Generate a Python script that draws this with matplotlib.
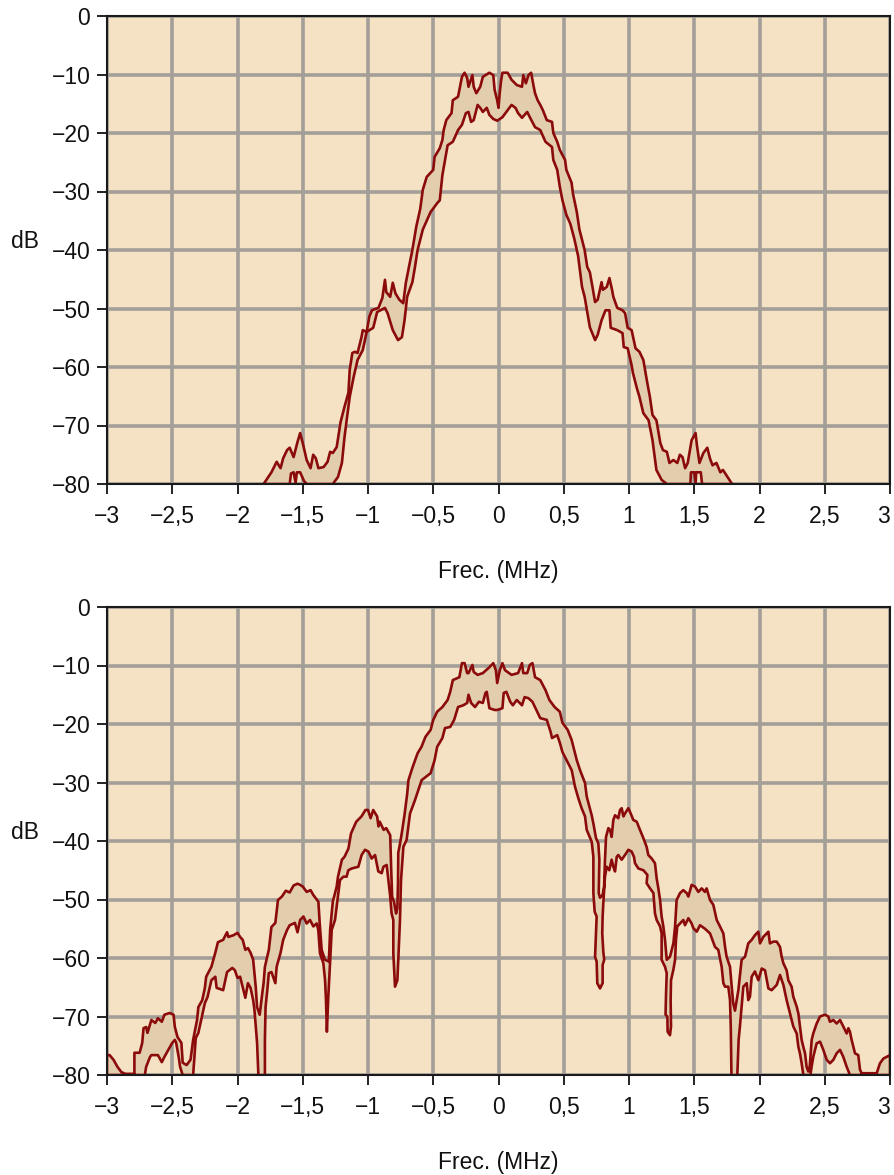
import matplotlib
matplotlib.use("Agg")
import matplotlib.pyplot as plt

plt.rcParams['font.family'] = ['Liberation Sans', 'DejaVu Sans']

# ---------------- data: (frequency MHz, level dB) ----------------
top_upper = [
    (-1.80, -80.0), (-1.74, -78.0), (-1.70, -76.2), (-1.67, -77.3), (-1.65, -75.6), (-1.62, -74.2),
    (-1.60, -73.8), (-1.57, -75.4), (-1.54, -72.8), (-1.52, -71.3), (-1.50, -73.0), (-1.47, -75.9),
    (-1.44, -77.3), (-1.42, -75.0), (-1.40, -75.6), (-1.38, -77.3), (-1.34, -77.1), (-1.31, -76.2),
    (-1.29, -74.5), (-1.27, -74.7), (-1.24, -73.7), (-1.21, -69.4), (-1.18, -66.8), (-1.15, -64.4),
    (-1.14, -60.5), (-1.12, -57.6), (-1.10, -57.4), (-1.08, -57.6), (-1.05, -54.9), (-1.04, -53.7),
    (-1.01, -54.0), (-0.99, -51.4), (-0.97, -50.3), (-0.92, -49.9), (-0.89, -48.2), (-0.87, -45.1),
    (-0.86, -47.2), (-0.83, -48.0), (-0.81, -45.6), (-0.79, -47.4), (-0.76, -48.5), (-0.73, -49.1),
    (-0.71, -45.6), (-0.68, -42.2), (-0.66, -40.0), (-0.63, -36.0), (-0.60, -33.0), (-0.58, -29.7),
    (-0.55, -27.5), (-0.50, -26.3), (-0.49, -24.1), (-0.45, -22.6), (-0.43, -21.2), (-0.42, -19.5),
    (-0.40, -17.8), (-0.36, -16.6), (-0.35, -14.4), (-0.31, -13.8), (-0.28, -10.4), (-0.26, -9.7),
    (-0.24, -10.6), (-0.23, -12.1), (-0.20, -10.1), (-0.19, -12.1), (-0.17, -13.2), (-0.14, -12.1),
    (-0.12, -10.4), (-0.07, -9.7), (-0.04, -10.1), (-0.03, -12.6), (-0.01, -14.4), (0.00, -15.7),
    (0.01, -13.0), (0.02, -11.0), (0.03, -9.7), (0.07, -9.7), (0.10, -10.9), (0.14, -11.8),
    (0.18, -12.1), (0.19, -10.1), (0.21, -11.5), (0.23, -10.1), (0.25, -9.7), (0.27, -12.1),
    (0.28, -13.2), (0.30, -14.4), (0.32, -15.2), (0.34, -16.1), (0.37, -17.8), (0.41, -18.1),
    (0.42, -20.0), (0.45, -21.5), (0.47, -22.9), (0.51, -24.6), (0.52, -26.3), (0.56, -28.5),
    (0.57, -30.3), (0.60, -33.5), (0.62, -36.5), (0.66, -40.0), (0.68, -42.9), (0.70, -43.8),
    (0.72, -46.3), (0.74, -48.9), (0.76, -48.5), (0.79, -45.5), (0.80, -46.8), (0.83, -46.3),
    (0.85, -44.8), (0.87, -46.8), (0.88, -48.0), (0.91, -49.9), (0.95, -50.3), (0.97, -50.8),
    (0.99, -53.3), (1.02, -53.7), (1.05, -56.8), (1.08, -57.4), (1.11, -58.8), (1.14, -62.7),
    (1.16, -65.1), (1.18, -68.2), (1.21, -69.1), (1.24, -73.0), (1.26, -74.2), (1.29, -74.5),
    (1.31, -76.4), (1.34, -75.9), (1.37, -76.4), (1.39, -75.0), (1.41, -75.4), (1.43, -77.3),
    (1.45, -76.4), (1.48, -72.5), (1.51, -71.3), (1.52, -73.3), (1.54, -76.4), (1.57, -74.7),
    (1.60, -73.8), (1.62, -75.6), (1.64, -76.8), (1.67, -76.4), (1.70, -78.0), (1.72, -77.6),
    (1.79, -80.0)]

top_lower = [
    (-1.80, -80.0), (-1.60, -80.0), (-1.59, -78.2), (-1.57, -78.0), (-1.555, -79.8), (-1.545, -78.0),
    (-1.52, -78.0), (-1.49, -79.5), (-1.47, -80.0), (-1.27, -80.0), (-1.23, -78.8), (-1.20, -76.4),
    (-1.18, -72.0), (-1.16, -68.5), (-1.14, -65.1), (-1.11, -61.7), (-1.08, -58.8), (-1.04, -57.1),
    (-1.01, -54.0), (-0.96, -53.3), (-0.93, -50.6), (-0.87, -49.9), (-0.85, -50.8), (-0.81, -53.7),
    (-0.77, -55.4), (-0.74, -54.9), (-0.72, -52.0), (-0.70, -48.0), (-0.66, -45.5), (-0.64, -42.9),
    (-0.62, -40.0), (-0.58, -36.5), (-0.55, -35.0), (-0.52, -33.5), (-0.47, -32.0), (-0.45, -31.5),
    (-0.43, -27.2), (-0.39, -22.1), (-0.35, -21.5), (-0.31, -19.5), (-0.28, -18.6), (-0.25, -16.6),
    (-0.23, -16.4), (-0.21, -18.1), (-0.19, -17.8), (-0.16, -15.2), (-0.14, -15.7), (-0.12, -16.4),
    (-0.09, -15.7), (-0.07, -16.9), (-0.04, -17.6), (-0.01, -17.9), (0.03, -17.3), (0.07, -16.1),
    (0.10, -15.2), (0.13, -15.7), (0.15, -16.6), (0.18, -17.4), (0.22, -16.4), (0.24, -17.3),
    (0.28, -19.0), (0.32, -19.5), (0.36, -21.5), (0.41, -22.4), (0.42, -24.6), (0.45, -26.3),
    (0.47, -29.2), (0.49, -31.5), (0.52, -34.0), (0.55, -35.5), (0.58, -38.0), (0.61, -41.0),
    (0.64, -46.3), (0.66, -48.0), (0.70, -53.2), (0.74, -55.4), (0.76, -54.5), (0.79, -52.0),
    (0.82, -50.3), (0.85, -50.3), (0.86, -53.3), (0.91, -53.7), (0.95, -54.2), (0.96, -56.6),
    (0.99, -56.8), (1.02, -59.7), (1.03, -61.0), (1.06, -63.6), (1.08, -65.1), (1.11, -67.9),
    (1.15, -69.1), (1.18, -72.5), (1.19, -74.2), (1.21, -77.6), (1.25, -79.3), (1.29, -80.0),
    (1.47, -80.0), (1.475, -78.0), (1.50, -78.0), (1.51, -80.0), (1.515, -78.0), (1.55, -78.0),
    (1.56, -80.0), (1.79, -80.0)]

bot_upper = [
    (-3.00, -76.6), (-2.98, -76.6), (-2.95, -77.4), (-2.92, -78.6), (-2.89, -79.5), (-2.86, -79.8),
    (-2.79, -79.8), (-2.79, -76.2), (-2.75, -76.2), (-2.73, -74.5), (-2.72, -72.0), (-2.70, -71.8),
    (-2.69, -72.8), (-2.66, -70.6), (-2.63, -71.1), (-2.61, -70.3), (-2.58, -70.9), (-2.56, -69.7),
    (-2.52, -69.4), (-2.49, -69.7), (-2.48, -71.8), (-2.46, -73.5), (-2.43, -74.5), (-2.42, -77.9),
    (-2.39, -78.3), (-2.36, -77.4), (-2.34, -74.0), (-2.31, -70.6), (-2.30, -68.4), (-2.27, -67.2),
    (-2.25, -65.1), (-2.24, -63.2), (-2.20, -61.5), (-2.17, -59.1), (-2.15, -57.3), (-2.11, -56.9),
    (-2.08, -55.6), (-2.07, -56.4), (-2.03, -56.1), (-2.00, -55.7), (-1.98, -56.4), (-1.96, -56.9),
    (-1.94, -58.6), (-1.92, -58.3), (-1.90, -59.1), (-1.88, -60.3), (-1.86, -65.0), (-1.85, -68.4),
    (-1.83, -69.7), (-1.81, -66.0), (-1.80, -64.3), (-1.79, -61.5), (-1.76, -58.6), (-1.74, -54.7),
    (-1.71, -54.0), (-1.69, -50.1), (-1.66, -49.5), (-1.63, -48.5), (-1.60, -48.8), (-1.57, -47.6),
    (-1.54, -47.3), (-1.52, -47.5), (-1.50, -47.8), (-1.47, -48.7), (-1.44, -48.4), (-1.42, -49.2),
    (-1.39, -50.1), (-1.38, -50.4), (-1.37, -54.1), (-1.355, -58.6), (-1.33, -60.3), (-1.30, -60.6),
    (-1.29, -55.2), (-1.27, -50.4), (-1.24, -47.8), (-1.23, -46.1), (-1.20, -43.2), (-1.18, -42.7),
    (-1.15, -41.3), (-1.13, -38.7), (-1.09, -36.7), (-1.05, -35.8), (-1.02, -34.7), (-1.00, -34.7),
    (-0.98, -36.1), (-0.96, -34.7), (-0.93, -35.8), (-0.92, -37.5), (-0.91, -36.7), (-0.88, -38.1),
    (-0.86, -37.8), (-0.83, -39.0), (-0.822, -45.0), (-0.815, -49.5), (-0.80, -50.5), (-0.785, -52.4),
    (-0.775, -51.5), (-0.770, -47.0), (-0.768, -42.0), (-0.755, -40.5), (-0.74, -38.5), (-0.72, -35.5),
    (-0.70, -32.0), (-0.69, -29.6), (-0.66, -27.5), (-0.62, -25.0), (-0.59, -23.9), (-0.56, -22.2),
    (-0.52, -21.0), (-0.50, -19.3), (-0.47, -17.9), (-0.43, -17.1), (-0.39, -15.9), (-0.37, -14.5),
    (-0.35, -12.5), (-0.30, -12.0), (-0.28, -9.6), (-0.26, -9.6), (-0.24, -11.3), (-0.23, -11.3),
    (-0.20, -9.9), (-0.19, -11.1), (-0.16, -11.6), (-0.12, -11.3), (-0.07, -10.3), (-0.04, -9.6),
    (-0.02, -10.8), (-0.01, -13.0), (0.01, -10.8), (0.03, -9.6), (0.05, -10.8), (0.10, -11.6),
    (0.15, -11.3), (0.18, -9.6), (0.19, -11.3), (0.22, -11.3), (0.24, -9.9), (0.26, -9.6),
    (0.28, -12.0), (0.32, -12.5), (0.36, -14.2), (0.39, -15.9), (0.43, -17.1), (0.47, -17.9),
    (0.49, -19.8), (0.53, -21.0), (0.56, -22.7), (0.60, -26.2), (0.625, -27.9), (0.663, -30.1),
    (0.676, -32.4), (0.714, -35.6), (0.727, -37.0), (0.747, -39.5), (0.765, -40.4), (0.773, -43.2),
    (0.768, -48.9), (0.778, -49.7), (0.798, -49.2), (0.809, -47.8), (0.816, -43.2), (0.824, -39.3),
    (0.842, -37.8), (0.855, -38.1), (0.867, -39.3), (0.880, -36.4), (0.893, -35.6), (0.918, -36.1),
    (0.931, -34.7), (0.944, -34.4), (0.957, -35.8), (0.969, -35.3), (0.995, -34.4), (1.013, -35.3),
    (1.033, -36.4), (1.059, -36.7), (1.084, -38.1), (1.110, -39.5), (1.135, -41.0), (1.148, -42.4),
    (1.174, -43.0), (1.199, -43.8), (1.212, -46.4), (1.225, -48.1), (1.238, -50.1), (1.250, -52.9),
    (1.263, -54.6), (1.276, -56.9), (1.289, -60.3), (1.314, -59.8), (1.340, -57.5), (1.353, -54.6),
    (1.365, -50.1), (1.391, -48.9), (1.416, -48.4), (1.442, -48.9), (1.455, -49.5), (1.480, -47.5),
    (1.506, -47.8), (1.531, -48.7), (1.557, -48.1), (1.582, -48.7), (1.595, -48.1), (1.621, -50.1),
    (1.646, -50.9), (1.672, -53.5), (1.697, -54.6), (1.723, -55.8), (1.736, -58.1), (1.748, -59.8),
    (1.774, -61.5), (1.787, -64.9), (1.799, -67.8), (1.812, -69.0), (1.838, -65.5), (1.863, -60.3),
    (1.889, -59.8), (1.914, -57.5), (1.940, -56.9), (1.965, -56.1), (1.991, -55.5), (2.004, -57.5),
    (2.029, -56.4), (2.055, -55.8), (2.068, -55.5), (2.080, -57.5), (2.106, -57.2), (2.132, -57.2),
    (2.157, -58.1), (2.170, -59.8), (2.183, -60.9), (2.208, -62.1), (2.221, -63.8), (2.246, -64.9),
    (2.259, -66.6), (2.285, -68.3), (2.298, -69.5), (2.310, -71.7), (2.323, -74.0), (2.336, -75.2),
    (2.349, -76.3), (2.361, -78.6), (2.374, -79.4), (2.385, -78.5), (2.400, -74.0), (2.412, -72.9),
    (2.438, -71.2), (2.464, -70.0), (2.502, -69.7), (2.527, -70.0), (2.540, -70.9), (2.566, -70.6),
    (2.591, -71.2), (2.617, -70.6), (2.642, -71.7), (2.668, -72.9), (2.681, -72.0), (2.693, -72.6),
    (2.706, -74.0), (2.732, -76.3), (2.757, -76.6), (2.770, -79.1), (2.783, -79.7), (2.898, -79.7),
    (2.923, -78.0), (2.949, -77.2), (2.974, -76.9), (3.00, -76.6)]

bot_lower = [
    (-3.00, -80.0), (-2.71, -80.0), (-2.70, -78.6), (-2.67, -76.9), (-2.66, -76.6), (-2.61, -76.6),
    (-2.58, -77.8), (-2.56, -76.9), (-2.53, -75.7), (-2.50, -74.5), (-2.48, -74.0), (-2.47, -74.5),
    (-2.45, -77.0), (-2.44, -78.6), (-2.42, -80.0), (-2.34, -80.0), (-2.33, -76.9), (-2.32, -73.7),
    (-2.30, -72.8), (-2.25, -67.7), (-2.23, -66.7), (-2.20, -63.8), (-2.17, -63.2), (-2.16, -65.1),
    (-2.11, -65.5), (-2.08, -62.4), (-2.04, -61.7), (-2.02, -62.1), (-2.00, -63.4), (-1.98, -63.2),
    (-1.96, -65.0), (-1.94, -66.8), (-1.92, -64.3), (-1.90, -65.1), (-1.88, -67.2), (-1.87, -68.9),
    (-1.85, -74.5), (-1.84, -80.0), (-1.79, -80.0), (-1.79, -74.0), (-1.785, -68.4), (-1.77, -65.1),
    (-1.76, -62.6), (-1.74, -62.4), (-1.71, -64.3), (-1.70, -61.5), (-1.67, -59.1), (-1.65, -56.9),
    (-1.62, -55.2), (-1.60, -54.4), (-1.56, -54.0), (-1.54, -55.6), (-1.52, -53.5), (-1.495, -52.9),
    (-1.47, -54.1), (-1.444, -53.5), (-1.419, -54.6), (-1.393, -54.1), (-1.381, -55.2), (-1.368, -59.2),
    (-1.342, -60.9), (-1.329, -63.8), (-1.322, -67.2), (-1.315, -72.6), (-1.305, -67.0), (-1.291, -60.9),
    (-1.278, -55.2), (-1.253, -53.5), (-1.240, -51.2), (-1.215, -46.7), (-1.189, -46.1), (-1.164, -46.1),
    (-1.151, -45.0), (-1.125, -44.7), (-1.074, -44.4), (-1.049, -42.4), (-1.023, -41.5), (-0.997, -41.8),
    (-0.972, -43.0), (-0.946, -42.4), (-0.921, -45.2), (-0.895, -45.5), (-0.882, -44.4), (-0.857, -44.1),
    (-0.831, -49.2), (-0.819, -52.4), (-0.806, -53.5), (-0.806, -59.2), (-0.793, -64.9), (-0.775, -63.8),
    (-0.768, -60.3), (-0.755, -53.5), (-0.747, -46.7), (-0.729, -41.0), (-0.704, -39.8), (-0.678, -35.3),
    (-0.640, -33.0), (-0.589, -29.6), (-0.52, -28.4), (-0.49, -26.2), (-0.47, -23.9), (-0.43, -22.4),
    (-0.41, -20.7), (-0.37, -20.5), (-0.34, -19.3), (-0.31, -17.1), (-0.27, -16.8), (-0.24, -16.4),
    (-0.23, -15.0), (-0.21, -16.4), (-0.18, -17.1), (-0.15, -16.2), (-0.12, -16.4), (-0.10, -14.7),
    (-0.09, -14.5), (-0.07, -17.3), (-0.03, -17.6), (-0.01, -17.6), (0.03, -17.3), (0.04, -14.7),
    (0.06, -14.5), (0.09, -16.2), (0.11, -16.8), (0.14, -15.9), (0.18, -16.8), (0.20, -15.4),
    (0.23, -15.6), (0.26, -16.2), (0.32, -19.0), (0.37, -19.3), (0.40, -21.4), (0.41, -22.4),
    (0.45, -21.9), (0.47, -23.2), (0.49, -24.8), (0.522, -26.2), (0.561, -27.9), (0.586, -30.7),
    (0.612, -32.7), (0.637, -34.4), (0.663, -35.8), (0.676, -38.1), (0.714, -40.1), (0.727, -42.7),
    (0.727, -48.9), (0.737, -52.1), (0.752, -52.9), (0.747, -55.8), (0.740, -59.8), (0.752, -60.6),
    (0.757, -64.3), (0.778, -65.2), (0.798, -64.3), (0.798, -61.2), (0.810, -60.3), (0.803, -58.9),
    (0.795, -55.8), (0.798, -52.9), (0.803, -50.7), (0.816, -46.1), (0.829, -44.4), (0.849, -45.0),
    (0.867, -43.2), (0.880, -44.4), (0.893, -45.2), (0.906, -42.7), (0.918, -42.4), (0.944, -43.2),
    (0.969, -42.4), (0.995, -41.5), (1.020, -41.8), (1.038, -42.7), (1.046, -43.8), (1.072, -44.7),
    (1.110, -45.0), (1.141, -45.8), (1.135, -47.2), (1.161, -48.1), (1.187, -48.9), (1.199, -52.4),
    (1.212, -53.5), (1.238, -54.6), (1.250, -55.8), (1.250, -60.3), (1.276, -61.5), (1.289, -62.6),
    (1.284, -66.0), (1.280, -69.7), (1.294, -70.0), (1.296, -72.6), (1.314, -73.2), (1.322, -71.7),
    (1.319, -67.2), (1.322, -63.8), (1.340, -62.0), (1.353, -60.3), (1.360, -56.9), (1.370, -54.6),
    (1.391, -54.1), (1.416, -53.5), (1.429, -54.4), (1.455, -53.2), (1.480, -54.1), (1.493, -54.9),
    (1.519, -55.5), (1.544, -54.4), (1.582, -55.0), (1.621, -55.8), (1.659, -58.1), (1.684, -58.6),
    (1.710, -61.5), (1.723, -64.3), (1.736, -64.9), (1.761, -64.9), (1.774, -67.2), (1.780, -72.0),
    (1.785, -80.0), (1.830, -80.0), (1.840, -74.0), (1.850, -71.7), (1.876, -64.9), (1.902, -64.3),
    (1.914, -67.2), (1.927, -66.6), (1.940, -63.2), (1.965, -62.3), (1.991, -63.8), (2.017, -61.8),
    (2.042, -62.1), (2.068, -65.2), (2.093, -65.5), (2.132, -64.6), (2.157, -62.9), (2.183, -64.6),
    (2.208, -67.2), (2.234, -69.5), (2.259, -71.7), (2.285, -72.9), (2.298, -75.2), (2.310, -76.3),
    (2.323, -78.0), (2.336, -80.0), (2.390, -80.0), (2.400, -78.5), (2.412, -76.9), (2.438, -74.6),
    (2.464, -74.3), (2.489, -75.7), (2.515, -77.4), (2.540, -78.0), (2.566, -77.4), (2.591, -76.3),
    (2.617, -75.7), (2.642, -76.9), (2.668, -78.6), (2.693, -80.0), (3.00, -80.0)]

x_ticks = [-3, -2.5, -2, -1.5, -1, -0.5, 0, 0.5, 1, 1.5, 2, 2.5, 3]
y_ticks = [0, -10, -20, -30, -40, -50, -60, -70, -80]
x_label = 'Frec. (MHz)'
y_label = 'dB'

# ---------------- style ----------------
BG = '#f5e2c4'
FILL = '#e2cead'
LINE = '#8b0a0a'
GRID = '#a39e98'


def fmt(v):
    if abs(v - round(v)) < 1e-9:
        s = str(int(round(v)))
    else:
        s = ('%g' % v).replace('.', ',')
    return s.replace('-', '\u2212')


fig = plt.figure(figsize=(8.94, 11.75), dpi=100)
W, H = 894.0, 1175.0
panels = [(top_upper, top_lower, 16), (bot_upper, bot_lower, 607)]
for upper, lower, top_px in panels:
    ax = fig.add_axes([107 / W, 1 - (top_px + 468) / H, 783 / W, 468 / H])
    ax.set_facecolor(BG)
    ax.set_xlim(-3, 3)
    ax.set_ylim(-80, 0)
    ax.set_xticks(x_ticks)
    ax.set_xticklabels([fmt(v) for v in x_ticks])
    ax.set_yticks(y_ticks)
    ax.set_yticklabels([fmt(v) for v in y_ticks])
    ax.get_xticklabels()[-1].set_horizontalalignment('right')
    ax.grid(True, color=GRID, lw=2.6, zorder=1)
    ax.set_axisbelow(True)
    ring = list(upper) + list(lower)[::-1]
    px = [p[0] for p in ring]
    py = [p[1] for p in ring]
    ax.fill(px, py, facecolor=FILL, edgecolor=LINE, lw=1.9, zorder=3, joinstyle='round')
    for s in ax.spines.values():
        s.set_color('#1a1a1a')
        s.set_linewidth(1.5)
        s.set_zorder(4)
    ax.tick_params(axis='both', direction='out', length=7, width=1.4, color='#222222',
                   labelsize=16.5, labelcolor='#111111')
    ax.tick_params(axis='x', pad=8)
    ax.tick_params(axis='y', pad=5)
    ax.set_xlabel(x_label, fontsize=16.5, labelpad=23, color='#111111')
    ax.set_ylabel(y_label, fontsize=16.5, rotation=0, ha='center', va='center', color='#111111')
    ax.yaxis.set_label_coords(-0.105, 0.519)

fig.savefig('out.png', dpi=100, facecolor='white')
